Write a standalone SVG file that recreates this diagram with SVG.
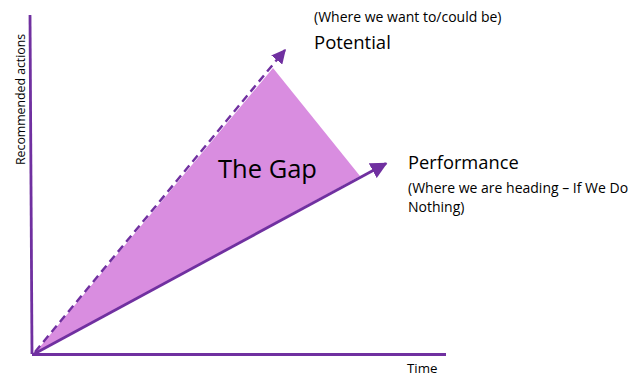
<svg xmlns="http://www.w3.org/2000/svg" width="632" height="376" viewBox="0 0 632 376">
<style>
text{font-family:"Open Sans","Liberation Sans",sans-serif;fill:#000}
.ax{stroke:#7030A0;stroke-width:2.8;fill:none}
.ln{stroke:#7030A0;stroke-width:2.8;fill:none}
.dash{stroke:#7030A0;stroke-width:2.4;fill:none;stroke-dasharray:8 5}
</style>
<defs>
<marker id="ah" viewBox="0 0 10 10" refX="9" refY="5" markerWidth="6" markerHeight="6" orient="auto" markerUnits="strokeWidth">
<path d="M0,0 L10,5 L0,10 z" fill="#7030A0"/>
</marker>
</defs>
<rect width="632" height="376" fill="#fff"/>
<g id="gap">
<polygon points="34,354 273,68 360,176" fill="#D98DE0"/>
<text x="218" y="178" font-size="25.5">The Gap</text>
</g>
<g id="connectors">
<line class="ax" x1="30" y1="15" x2="32" y2="354"/>
<line class="ax" x1="32" y1="354.5" x2="446" y2="354.5"/>
<line class="dash" x1="35" y1="352" x2="285" y2="50" marker-end="url(#ah)"/>
<line class="ln" x1="34" y1="354" x2="386" y2="163.5" marker-end="url(#ah)"/>
</g>
<g id="potential">
<text x="314" y="22" font-size="14">(Where we want to/could be)</text>
<text x="314" y="49" font-size="18.5">Potential</text>
</g>
<g id="performance">
<text x="408" y="169" font-size="18.3">Performance</text>
<text x="408" y="193" font-size="14">(Where we are heading – If We Do</text>
<text x="408" y="212" font-size="14">Nothing)</text>
</g>
<g id="labels">
<text x="407" y="373" font-size="13.3">Time</text>
<text transform="translate(25,165) rotate(-90)" font-size="12.3">Recommended actions</text>
</g>
</svg>
